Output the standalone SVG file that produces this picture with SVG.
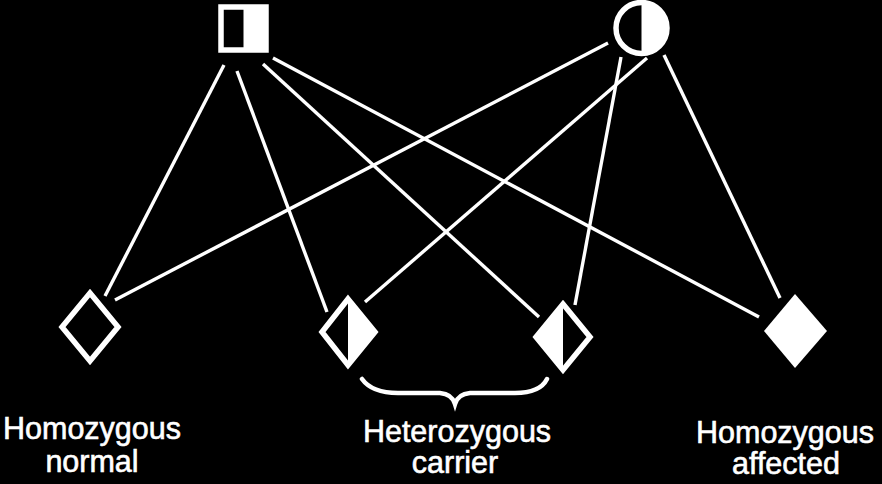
<svg xmlns="http://www.w3.org/2000/svg" width="882" height="484" viewBox="0 0 882 484">
<style>
.ln{stroke:#fff;stroke-width:3.4;stroke-linecap:butt;fill:none}
.sym{stroke:#fff;stroke-width:5.5;fill:none;stroke-linejoin:miter}
.fill{fill:#fff;stroke:none}
.lbl{font-family:"Liberation Sans",Arial,sans-serif;font-size:30.5px;fill:#fff;stroke:#fff;stroke-width:0.6;text-anchor:middle}
</style>
<rect width="882" height="484" fill="#000"/>
<g id="connectors">
<line class="ln" x1="224" y1="65" x2="105" y2="296"/>
<line class="ln" x1="237" y1="71" x2="327" y2="312"/>
<line class="ln" x1="263" y1="64" x2="539" y2="317"/>
<line class="ln" x1="273" y1="58" x2="759" y2="317"/>
<line class="ln" x1="608" y1="43" x2="115" y2="300"/>
<line class="ln" x1="647" y1="58" x2="365" y2="302"/>
<line class="ln" x1="621" y1="57" x2="575" y2="305"/>
<line class="ln" x1="664" y1="55" x2="780" y2="298"/>
</g>
<g id="father">
<rect class="sym" x="221" y="7" width="45" height="43"/>
<rect class="fill" x="243.5" y="7" width="22.5" height="43"/>
</g>
<g id="mother">
<circle class="sym" cx="641.5" cy="28" r="25.5"/>
<path class="fill" d="M641.5,2.5 A25.5,25.5 0 0 1 641.5,53.5 Z"/>
</g>
<g id="normal">
<polygon class="sym" points="90,293 118,327 90,361 62,327"/>
<text class="lbl" x="92" y="439">Homozygous</text>
<text class="lbl" x="92" y="472">normal</text>
</g>
<g id="carrier1">
<polygon class="sym" points="348,299 375,332 348,365 322,332"/>
<polygon class="fill" points="348,299 375,332 348,365"/>
</g>
<g id="carrier2">
<polygon class="sym" points="563,304 590,337 563,370 536,337"/>
<polygon class="fill" points="563,304 536,337 563,370"/>
</g>
<g id="carriers-label">
<path class="ln" style="stroke-width:4.5;stroke-linecap:round" d="M362,379 Q372,393 398,393 L440,393 Q452,394 455,404 Q458,394 470,393 L515,393 Q540,393 547,379"/>
<text class="lbl" x="457" y="442">Heterozygous</text>
<text class="lbl" x="455" y="473">carrier</text>
</g>
<g id="affected">
<polygon class="fill" points="795,294 827,331 795,368 764,331"/>
<text class="lbl" x="785" y="443">Homozygous</text>
<text class="lbl" x="786" y="474">affected</text>
</g>
</svg>
